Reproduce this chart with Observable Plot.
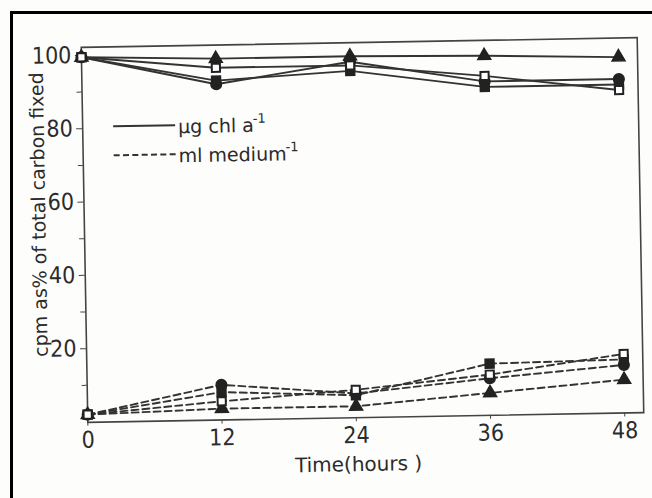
<!DOCTYPE html>
<html>
<head>
<meta charset="utf-8">
<script src="https://cdn.jsdelivr.net/npm/d3@7"></script>
<script src="https://cdn.jsdelivr.net/npm/@observablehq/plot@0.6"></script>
<style>
  html, body { margin: 0; padding: 0; background: #fdfdfb; }
  #wrap { position: relative; width: 652px; height: 498px; overflow: hidden; background: #fdfdfb; }
  #frame { position: absolute; left: 10px; top: 11px; width: 700px; height: 600px;
           border-left: 3px solid #000; border-top: 3px solid #000; }
  #chart { position: absolute; left: 0; top: 0; width: 652px; height: 498px;
           transform: rotate(-1deg); transform-origin: 363px 230px; }
  #legend { position: absolute; left: 115px; top: 107px;
            font-family: "DejaVu Sans", sans-serif;
            font-size: 19px; color: #2b2b2b; line-height: 1; }
  .row { display: flex; align-items: center; height: 29px; }
  .sw { display: inline-block; width: 62px; height: 0; margin-right: 3px; }
  .solid { border-top: 2px solid #333; }
  .dashed { border-top: 2px dashed #333; }
  sup { font-size: 13px; vertical-align: 9px; margin-left: -1px; }
</style>
</head>
<body>
<div id="wrap">
  <div id="frame"></div>
  <div id="chart"></div>
</div>
<script>
// Time (hours)
const hours = [0, 12, 24, 36, 48];

// Solid lines: per µg chl a
const chlTriangle     = [99.5, 98.5, 98.5, 98, 97];
const chlCircle       = [99.5, 91.5, 97, 91, 91];
const chlOpenSquare   = [99.5, 96, 96, 92.5, 88];
const chlFilledSquare = [99.5, 92.5, 94.5, 89.5, 89.5];

// Dashed lines: per ml medium
const medTriangle     = [2, 3, 3, 6, 9];
const medCircle       = [2, 9.5, 6.5, 10, 13];
const medOpenSquare   = [2, 5, 7.5, 11, 16];
const medFilledSquare = [2, 7.5, 6, 14, 14.5];

const yMajorTicks = [20, 40, 60, 80, 100];
const yMinorTicks = [10, 30, 50, 70, 90];
const xTicks = [0, 12, 24, 36, 48];

const yLabel = "cpm as% of total carbon fixed";
const xLabel = "Time(hours )";

function rows(values, marker, basis) {
  return hours.map((h, i) => ({hour: h, value: values[i], marker, basis, series: basis + "-" + marker}));
}

const solidRows = [
  ...rows(chlTriangle, "triangle", "chl"),
  ...rows(chlCircle, "circle", "chl"),
  ...rows(chlOpenSquare, "openSquare", "chl"),
  ...rows(chlFilledSquare, "filledSquare", "chl")
];
const dashedRows = [
  ...rows(medTriangle, "triangle", "med"),
  ...rows(medCircle, "circle", "med"),
  ...rows(medOpenSquare, "openSquare", "med"),
  ...rows(medFilledSquare, "filledSquare", "med")
];
const all = [...solidRows, ...dashedRows];

const ink = "#2b2b2b";
const narrow = "'Liberation Sans Narrow', 'DejaVu Sans Condensed', 'DejaVu Sans', sans-serif";
const font = "'DejaVu Sans', sans-serif";

const chart = Plot.plot({
  width: 652,
  height: 498,
  marginLeft: 84,
  marginRight: 12,
  marginTop: 42,
  marginBottom: 81,
  style: {fontFamily: font, fontSize: "21px", background: "transparent", color: ink},
  x: {domain: [0, 49.7]},
  y: {domain: [-0.1, 102.2]},
  marks: [
    Plot.frame({stroke: "#444", strokeWidth: 1.6}),
    Plot.axisY({ticks: yMajorTicks, tickSize: 6, tickPadding: 4, label: null, stroke: "#444", fontFamily: narrow, fontSize: 23}),
    Plot.axisY({ticks: yMinorTicks, tickSize: 5, text: null, label: null, stroke: "#444"}),
    Plot.axisX({ticks: xTicks, tickSize: 4, tickPadding: 5, label: null, stroke: "#444", fontFamily: narrow, fontSize: 23}),
    Plot.text([yLabel], {frameAnchor: "left", textAnchor: "middle", lineAnchor: "middle", rotate: -90, dx: -45, dy: -21, fontSize: 19, fill: ink}),
    Plot.text([xLabel], {frameAnchor: "bottom", textAnchor: "middle", lineAnchor: "middle", dx: -8, dy: 47, fontSize: 20, fill: ink}),
    Plot.line(solidRows, {x: "hour", y: "value", z: "series", stroke: "#333", strokeWidth: 1.9}),
    Plot.line(dashedRows, {x: "hour", y: "value", z: "series", stroke: "#333", strokeWidth: 1.9, strokeDasharray: "7,4"}),
    Plot.dot(all.filter(d => d.marker === "triangle"), {x: "hour", y: "value", symbol: "triangle", r: 4.8, fill: "#222", stroke: "#222"}),
    Plot.dot(all.filter(d => d.marker === "circle"), {x: "hour", y: "value", symbol: "circle", r: 5.3, fill: "#222", stroke: "#222"}),
    Plot.dot(all.filter(d => d.marker === "filledSquare"), {x: "hour", y: "value", symbol: "square", r: 5, fill: "#222", stroke: "#222"}),
    Plot.dot(all.filter(d => d.marker === "openSquare"), {x: "hour", y: "value", symbol: "square", r: 4.6, fill: "#fff", stroke: "#222", strokeWidth: 2})
  ]
});

const holder = document.getElementById("chart");
holder.appendChild(chart);

const legend = document.createElement("div");
legend.id = "legend";
legend.innerHTML =
  '<div class="row"><span class="sw solid"></span><span>µg chl a<sup>-1</sup></span></div>' +
  '<div class="row"><span class="sw dashed"></span><span>ml medium<sup>-1</sup></span></div>';
holder.appendChild(legend);
</script>
</body>
</html>
